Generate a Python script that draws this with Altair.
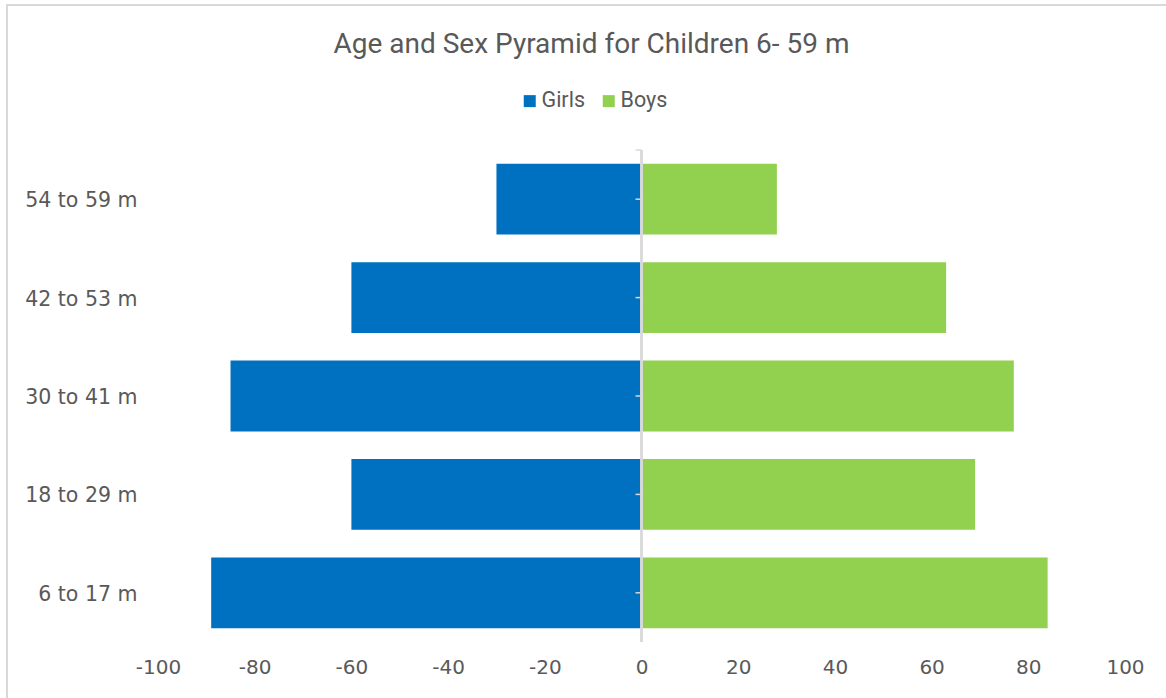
import altair as alt
import pandas as pd

# Age bands, top to bottom
ages = ["54 to 59 m", "42 to 53 m", "30 to 41 m", "18 to 29 m", "6 to 17 m"]
# Girls are plotted to the left of zero, boys to the right
girls = [-30, -60, -85, -60, -89]
boys = [28, 63, 77, 69, 84]
x_ticks = [-100, -80, -60, -40, -20, 0, 20, 40, 60, 80, 100]

sexes = ["Girls", "Boys"]
colors = ["#0070C0", "#92D050"]
text_color = "#595959"
line_color = "#D9D9D9"

rows = []
for age, g, b in zip(ages, girls, boys):
    rows.append({"age": age, "sex": "Girls", "count": g})
    rows.append({"age": age, "sex": "Boys", "count": b})
df = pd.DataFrame(rows)

W, H = 967, 492

y_enc = alt.Y(
    "age:N",
    sort=ages,
    title=None,
    scale=alt.Scale(paddingInner=0.28, paddingOuter=0.14),
    axis=alt.Axis(
        domain=False,
        ticks=False,
        labelPadding=21,
        labelOffset=2,
        labelFont="DejaVu Sans",
        labelFontSize=20.5,
        labelColor=text_color,
    ),
)

bars = alt.Chart(df).mark_bar().encode(
    x=alt.X(
        "count:Q",
        stack=None,
        title=None,
        scale=alt.Scale(domain=[-100, 100], nice=False),
        axis=alt.Axis(
            values=x_ticks,
            labelExpr="'' + datum.value",
            labelFlush=False,
            domain=False,
            ticks=False,
            grid=False,
            labelPadding=15,
            labelFont="DejaVu Sans",
            labelFontSize=20,
            labelColor=text_color,
        ),
    ),
    y=y_enc,
    color=alt.Color(
        "sex:N",
        scale=alt.Scale(domain=sexes, range=colors),
        sort=sexes,
        legend=alt.Legend(
            title=None,
            orient="none",
            direction="horizontal",
            legendX=361,
            legendY=-60,
            symbolType="square",
            symbolSize=144,
            symbolStrokeWidth=0,
            symbolOpacity=1,
            labelFont="Roboto",
            labelFontSize=21.5,
            labelColor=text_color,
            labelOffset=1,
            columnPadding=13,
        ),
    ),
)

# Vertical category axis line through zero
zero_line = alt.Chart(df).mark_rule(color=line_color, strokeWidth=1.5).encode(
    x=alt.datum(0)
)

# Small tick marks on the zero line, one per age band
ticks = (
    alt.Chart(pd.DataFrame({"age": ages}))
    .mark_rule(color=line_color, strokeWidth=1.5, x2Offset=-6)
    .encode(x=alt.datum(0), x2=alt.datum(0), y=alt.Y("age:N", sort=ages))
)

# Cap tick at the top end of the zero line
top_tick = (
    alt.Chart(alt.Data(values=[{}]))
    .mark_rule(color=line_color, strokeWidth=1.5, x2Offset=-6)
    .encode(x=alt.datum(0), x2=alt.datum(0), y=alt.value(0))
)

# Light frame around the whole chart area
frame = (
    alt.Chart(alt.Data(values=[{}]))
    .mark_rect(fill=None, stroke=line_color, strokeWidth=2, clip=False)
    .encode(
        x=alt.value(-151),
        x2=alt.value(1100),
        y=alt.value(-145),
        y2=alt.value(700),
    )
)

chart = (
    alt.layer(frame, bars, zero_line, ticks, top_tick)
    .properties(
        width=W,
        height=H,
        padding={"left": 158, "top": 150, "right": 41, "bottom": 56},
        autosize=alt.AutoSizeParams(type="none"),
        title=alt.TitleParams(
            "Age and Sex Pyramid for Children 6- 59 m",
            font="Roboto",
            fontSize=28,
            fontWeight="normal",
            color=text_color,
            anchor="middle",
            dx=-50,
            offset=-55,
        ),
    )
    .configure(background="white")
    .configure_view(stroke=None)
)

chart.save("out.html", embed_options={"renderer": "svg", "actions": False})
